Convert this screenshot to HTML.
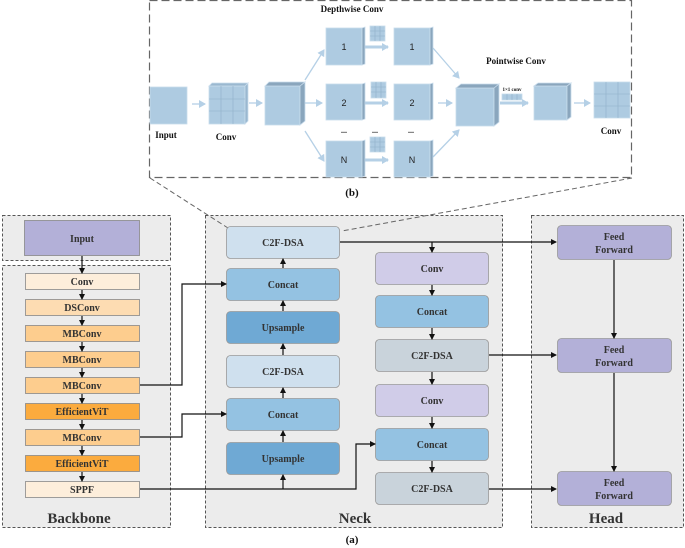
<!DOCTYPE html>
<html><head><meta charset="utf-8"><style>body{margin:0;background:#fff}svg{display:block}</style></head><body>
<svg width="685" height="548" viewBox="0 0 685 548" xmlns="http://www.w3.org/2000/svg" font-family="Liberation Serif, serif" font-weight="bold">
<defs>
<marker id="a" markerWidth="6" markerHeight="6" refX="5" refY="3" orient="auto" markerUnits="userSpaceOnUse"><path d="M0,0L6,3L0,6z" fill="#111"/></marker>
<marker id="b" markerWidth="8" markerHeight="8" refX="6" refY="4" orient="auto" markerUnits="userSpaceOnUse"><path d="M0,0L7,4L0,8z" fill="#b5d0e6"/></marker>
</defs>
<!-- panel b -->
<rect x="149.5" y="0.5" width="482" height="177" fill="#fff" stroke="#666" stroke-dasharray="8,4" stroke-width="1.2"/>
<g font-size="9" fill="#111" text-anchor="middle">
<text x="352" y="12">Depthwise Conv</text>
<text x="516" y="64">Pointwise Conv</text>
<text x="166" y="138">Input</text>
<text x="226" y="140">Conv</text>
<text x="611" y="134">Conv</text>
</g>
<g fill="#aecbe1" stroke="#c9dcec" stroke-width="0.8">
<rect x="150" y="87" width="37" height="37"/>
<rect x="209" y="86" width="36" height="38"/>
<path d="M209,86l3,-3h36l-3,3z M245,86l3,-3v38l-3,3z" fill="#9ab8d0"/>
<rect x="265" y="86" width="35" height="39"/>
<path d="M265,86l4,-4h36l-5,4z M300,86l5,-4v39l-5,4z" fill="#8aa6bd"/>
<rect x="326" y="28" width="36" height="37"/><rect x="394" y="28" width="36" height="37"/>
<rect x="326" y="84" width="36" height="36"/><rect x="394" y="84" width="36" height="36"/>
<rect x="326" y="141" width="36" height="36"/><rect x="394" y="141" width="36" height="36"/>
<path d="M362,28l3,-1v37l-3,1z M430,28l3,-1v37l-3,1z M362,84l3,-1v36l-3,1z M430,84l3,-1v36l-3,1z M362,141l3,-1v36l-3,1z M430,141l3,-1v36l-3,1z" fill="#8aa6bd"/>
<rect x="370" y="26" width="15" height="15"/><rect x="371" y="82" width="15" height="16"/><rect x="370" y="137" width="15" height="15"/>
<rect x="456" y="88" width="38" height="38"/>
<path d="M456,88l5,-4h38l-5,4z M494,88l5,-4v38l-5,4z" fill="#8aa6bd"/>
<rect x="502" y="94" width="20" height="6"/>
<rect x="534" y="86" width="33" height="34"/>
<path d="M534,86l4,-3h33l-4,3z M567,86l4,-3v34l-4,3z" fill="#8aa6bd"/>
<rect x="594" y="82" width="36" height="36"/>
</g>
<g stroke="#8fb0c9" stroke-width="0.6" fill="none">
<path d="M221,86v38M233,86v38M209,99h36M209,111h36M606,82v36M618,82v36M594,94h36M594,106h36M375,26v15M380,26v15M370,31h15M370,36h15M376,82v16M381,82v16M371,87h15M371,92h15M375,137v15M380,137v15M370,142h15M370,147h15M507,94v6M512,94v6M517,94v6"/>
</g>
<g font-family="Liberation Sans, sans-serif" font-weight="normal" font-size="9" text-anchor="middle" fill="#222">
<text x="344" y="50">1</text><text x="412" y="50">1</text><text x="344" y="106">2</text><text x="412" y="106">2</text><text x="344" y="163">N</text><text x="412" y="163">N</text>
</g>
<g font-size="8" text-anchor="middle" fill="#111"><text x="344" y="133">...</text><text x="375" y="133">...</text><text x="411" y="133">...</text><text x="512" y="91" font-size="5">1×1 conv</text></g>
<g stroke="#b5d0e6" stroke-width="1.3" fill="none" marker-end="url(#b)">
<line x1="192" y1="104" x2="205" y2="104"/><line x1="249" y1="103" x2="262" y2="103"/>
<line x1="305" y1="103" x2="322" y2="103"/>
<line x1="305" y1="80" x2="324" y2="50"/><line x1="305" y1="131" x2="324" y2="161"/>
<line x1="438" y1="103" x2="452" y2="103"/>
<line x1="433" y1="48" x2="459" y2="78"/><line x1="433" y1="157" x2="459" y2="130"/>
<line x1="574" y1="103" x2="590" y2="103"/>
</g>
<g stroke="#b5d0e6" stroke-width="3" fill="none" marker-end="url(#b)">
<line x1="365" y1="47" x2="388" y2="47"/><line x1="365" y1="103" x2="388" y2="103"/><line x1="365" y1="160" x2="388" y2="160"/>
<line x1="500" y1="103" x2="528" y2="103"/>
</g>
<text x="352" y="196" font-size="11" text-anchor="middle" fill="#111">(b)</text>
<!-- containers -->
<g fill="#ececec" stroke="#555" stroke-dasharray="3,2" stroke-width="1">
<rect x="2.5" y="215.5" width="168" height="45"/>
<rect x="2.5" y="265.5" width="168" height="262"/>
<rect x="205.5" y="215.5" width="297" height="312"/>
<rect x="531.5" y="215.5" width="152" height="312"/>
</g>
<line x1="150" y1="178" x2="228" y2="228" stroke="#666" stroke-dasharray="5,3"/>
<line x1="632" y1="178" x2="342" y2="231" stroke="#666" stroke-dasharray="5,3"/>
<!-- backbone -->
<g stroke="#888" stroke-width="0.8">
<rect x="24.5" y="220.5" width="115" height="35" fill="#b3b0d8"/>
<rect x="25.5" y="273.5" width="114" height="16" fill="#fdeedb"/>
<rect x="25.5" y="299.5" width="114" height="16" fill="#fddcb2"/>
<rect x="25.5" y="325.5" width="114" height="16" fill="#fdcd8e"/>
<rect x="25.5" y="351.5" width="114" height="16" fill="#fdcd8e"/>
<rect x="25.5" y="377.5" width="114" height="16" fill="#fdcd8e"/>
<rect x="25.5" y="403.5" width="114" height="16" fill="#fbab3e"/>
<rect x="25.5" y="429.5" width="114" height="16" fill="#fdcd8e"/>
<rect x="25.5" y="455.5" width="114" height="16" fill="#fbab3e"/>
<rect x="25.5" y="481.5" width="114" height="16" fill="#fdeedb"/>
</g>
<g font-size="10" text-anchor="middle" fill="#333">
<text x="82" y="242">Input</text>
<text x="82" y="285">Conv</text><text x="82" y="311">DSConv</text><text x="82" y="337">MBConv</text><text x="82" y="363">MBConv</text><text x="82" y="389">MBConv</text><text x="82" y="415">EfficientViT</text><text x="82" y="441">MBConv</text><text x="82" y="467">EfficientViT</text><text x="82" y="493">SPPF</text>
</g>
<g font-size="15" text-anchor="middle" fill="#333">
<text x="79" y="523">Backbone</text><text x="355" y="523">Neck</text><text x="606" y="523">Head</text>
</g>
<text x="352" y="543" font-size="11" text-anchor="middle" fill="#111">(a)</text>
<!-- neck -->
<g stroke="#999" stroke-width="0.8">
<rect x="226.5" y="226.5" width="113" height="32" rx="4" fill="#cfe0ee"/>
<rect x="226.5" y="268.5" width="113" height="32" rx="4" fill="#94c2e2"/>
<rect x="226.5" y="311.5" width="113" height="32" rx="4" fill="#6fa9d4"/>
<rect x="226.5" y="355.5" width="113" height="32" rx="4" fill="#cfe0ee"/>
<rect x="226.5" y="398.5" width="113" height="32" rx="4" fill="#94c2e2"/>
<rect x="226.5" y="442.5" width="113" height="32" rx="4" fill="#6fa9d4"/>
<rect x="375.5" y="252.5" width="113" height="32" rx="4" fill="#d0cce8"/>
<rect x="375.5" y="295.5" width="113" height="32" rx="4" fill="#94c2e2"/>
<rect x="375.5" y="339.5" width="113" height="32" rx="4" fill="#c9d3db"/>
<rect x="375.5" y="384.5" width="113" height="32" rx="4" fill="#d0cce8"/>
<rect x="375.5" y="428.5" width="113" height="32" rx="4" fill="#94c2e2"/>
<rect x="375.5" y="472.5" width="113" height="32" rx="4" fill="#c9d3db"/>
<rect x="557.5" y="225.5" width="114" height="34" rx="4" fill="#b3b0d8"/>
<rect x="557.5" y="338.5" width="114" height="34" rx="4" fill="#b3b0d8"/>
<rect x="557.5" y="471.5" width="114" height="34" rx="4" fill="#b3b0d8"/>
</g>
<g font-size="10" text-anchor="middle" fill="#333">
<text x="283" y="246">C2F-DSA</text><text x="283" y="288">Concat</text><text x="283" y="331">Upsample</text><text x="283" y="375">C2F-DSA</text><text x="283" y="418">Concat</text><text x="283" y="462">Upsample</text>
<text x="432" y="272">Conv</text><text x="432" y="315">Concat</text><text x="432" y="359">C2F-DSA</text><text x="432" y="404">Conv</text><text x="432" y="448">Concat</text><text x="432" y="492">C2F-DSA</text>
<text x="614" y="240">Feed</text><text x="614" y="253">Forward</text>
<text x="614" y="353">Feed</text><text x="614" y="366">Forward</text>
<text x="614" y="486">Feed</text><text x="614" y="499">Forward</text>
</g>
<!-- arrows -->
<g stroke="#111" stroke-width="1.2" fill="none" marker-end="url(#a)">
<line x1="82" y1="256" x2="82" y2="273"/>
<line x1="82" y1="290" x2="82" y2="299"/><line x1="82" y1="316" x2="82" y2="325"/><line x1="82" y1="342" x2="82" y2="351"/><line x1="82" y1="368" x2="82" y2="377"/><line x1="82" y1="394" x2="82" y2="403"/><line x1="82" y1="420" x2="82" y2="429"/><line x1="82" y1="446" x2="82" y2="455"/><line x1="82" y1="472" x2="82" y2="481"/>
<polyline points="140,385 182,385 182,284 226,284"/>
<polyline points="140,437 182,437 182,414 226,414"/>
<polyline points="140,489 356,489 356,444 375,444"/>
<line x1="283" y1="489" x2="283" y2="475"/>
<line x1="283" y1="442" x2="283" y2="431"/><line x1="283" y1="398" x2="283" y2="388"/><line x1="283" y1="355" x2="283" y2="344"/><line x1="283" y1="311" x2="283" y2="301"/><line x1="283" y1="268" x2="283" y2="259"/>
<line x1="340" y1="242" x2="556" y2="242"/>
<line x1="432" y1="242" x2="432" y2="252"/>
<line x1="432" y1="285" x2="432" y2="295"/><line x1="432" y1="328" x2="432" y2="339"/><line x1="432" y1="372" x2="432" y2="384"/><line x1="432" y1="417" x2="432" y2="428"/><line x1="432" y1="461" x2="432" y2="472"/>
<line x1="489" y1="355" x2="556" y2="355"/><line x1="489" y1="489" x2="556" y2="489"/>
<line x1="614" y1="260" x2="614" y2="338"/><line x1="614" y1="373" x2="614" y2="471"/>
</g>
</svg>
</body></html>
